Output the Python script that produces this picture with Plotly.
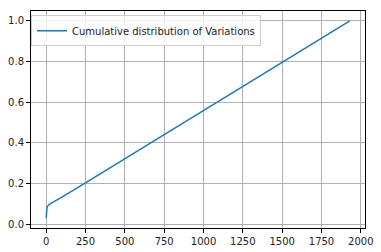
import plotly.graph_objects as go

variation_values = [0, 1, 2, 3, 5, 8, 12, 20, 30, 40, 60, 100, 250, 500, 1000, 1500, 1930]
cumulative_fraction = [0.03, 0.055, 0.068, 0.076, 0.083, 0.088, 0.092, 0.098, 0.103, 0.107, 0.115, 0.133, 0.203, 0.321, 0.558, 0.794, 1.0]
x_ticks = [0, 250, 500, 750, 1000, 1250, 1500, 1750, 2000]
y_ticks = [0.0, 0.2, 0.4, 0.6, 0.8, 1.0]
series_name = "Cumulative distribution of Variations"

xmin, xmax = min(variation_values), max(variation_values)
ymin, ymax = min(cumulative_fraction), max(cumulative_fraction)
xpad = 0.05 * (xmax - xmin)
ypad = 0.05 * (ymax - ymin)

fig = go.Figure()
fig.add_trace(go.Scatter(
    x=variation_values, y=cumulative_fraction, mode="lines",
    name=series_name, line=dict(color="#1f77b4", width=1.5),
    showlegend=True,
))

axis_common = dict(
    showgrid=True, gridcolor="#b0b0b0", gridwidth=0.8,
    showline=True, linecolor="black", linewidth=1, mirror=True,
    ticks="outside", ticklen=4, tickcolor="black", tickwidth=1,
    zeroline=False, automargin=False,
    tickfont=dict(family="DejaVu Sans", size=10, color="#222"),
)

fig.update_xaxes(range=[xmin - xpad, xmax + xpad], tickvals=x_ticks,
                 ticktext=[str(v) for v in x_ticks], **axis_common)
fig.update_yaxes(range=[ymin - ypad, ymax + ypad], tickvals=y_ticks,
                 ticktext=[f"{v:.1f}" for v in y_ticks], **axis_common)

fig.update_layout(
    width=381, height=252,
    margin=dict(l=31, r=16, t=11, b=24, autoexpand=False),
    paper_bgcolor="white", plot_bgcolor="white",
    font=dict(family="DejaVu Sans", size=10, color="#222"),
    legend=dict(x=0.0, y=0.98, xanchor="left", yanchor="top",
                bgcolor="rgba(255,255,255,0.8)", bordercolor="#cccccc", borderwidth=1,
                font=dict(family="DejaVu Sans", size=10, color="#222"),
                itemwidth=30, tracegroupgap=0),
)

fig.write_html("out.html")
